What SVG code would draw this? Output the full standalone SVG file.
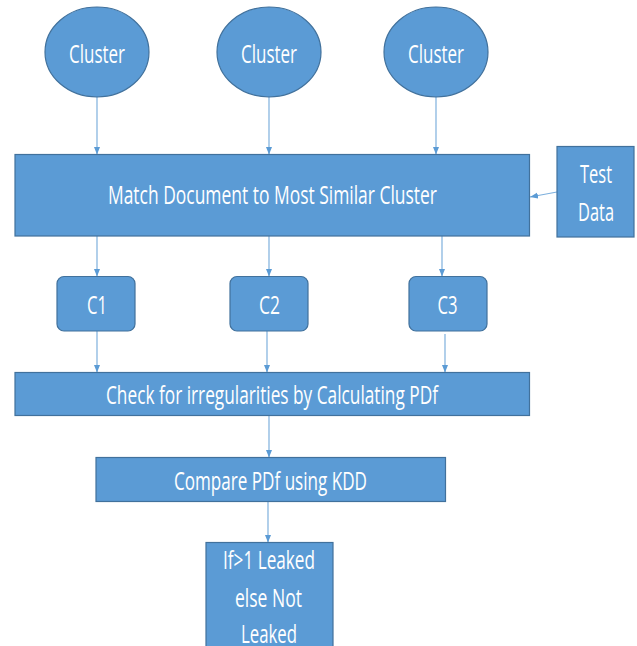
<svg xmlns="http://www.w3.org/2000/svg" width="637" height="646" viewBox="0 0 637 646">
<style>
.n{fill:#5B9BD5;stroke:#41719C;stroke-width:1.2}
.t{font-family:"Open Sans","Liberation Sans",sans-serif;font-size:25px;fill:#FFFFFF;text-anchor:middle}
.c{stroke:#7EB0DD;stroke-width:1.2;fill:none;marker-end:url(#ah)}
</style>
<defs>
<marker id="ah" viewBox="0 0 10 10" refX="10" refY="5" markerUnits="userSpaceOnUse" markerWidth="8" markerHeight="8" orient="auto">
<path d="M0,1 L10,5 L0,9 Z" fill="#5B9BD5"/>
</marker>
</defs>
<rect width="637" height="646" fill="#FFFFFF"/>
<g id="connectors">
<line class="c" x1="97" y1="97" x2="97" y2="154.5"/>
<line class="c" x1="269" y1="97" x2="269" y2="154.5"/>
<line class="c" x1="436" y1="97" x2="436" y2="154.5"/>
<line class="c" x1="557" y1="192" x2="530" y2="197"/>
<line class="c" x1="97" y1="236" x2="97" y2="276.5"/>
<line class="c" x1="269" y1="236" x2="269" y2="276.5"/>
<line class="c" x1="442" y1="236" x2="442" y2="276.5"/>
<line class="c" x1="97" y1="331" x2="97" y2="372.5"/>
<line class="c" x1="267" y1="331" x2="267" y2="372.5"/>
<line class="c" x1="445" y1="334" x2="445" y2="372.5"/>
<line class="c" x1="269" y1="416" x2="269" y2="457.5"/>
<line class="c" x1="268" y1="502" x2="268" y2="542.5"/>
</g>
<g id="cluster1"><ellipse class="n" cx="97" cy="52" rx="52" ry="45"/><text class="t" x="97" y="63" textLength="56" lengthAdjust="spacingAndGlyphs">Cluster</text></g>
<g id="cluster2"><ellipse class="n" cx="269" cy="52" rx="52" ry="45"/><text class="t" x="269" y="63" textLength="56" lengthAdjust="spacingAndGlyphs">Cluster</text></g>
<g id="cluster3"><ellipse class="n" cx="436" cy="52" rx="52" ry="45"/><text class="t" x="436" y="63" textLength="56" lengthAdjust="spacingAndGlyphs">Cluster</text></g>
<g id="match"><rect class="n" x="15" y="154.5" width="514.5" height="81.5"/><text class="t" x="272.5" y="204" textLength="329" lengthAdjust="spacingAndGlyphs">Match Document to Most Similar Cluster</text></g>
<g id="testdata"><rect class="n" x="557" y="146.5" width="77" height="90.5"/><text class="t" x="596" y="183" textLength="32" lengthAdjust="spacingAndGlyphs">Test</text><text class="t" x="596" y="221" textLength="36" lengthAdjust="spacingAndGlyphs">Data</text></g>
<g id="c1"><rect class="n" x="57" y="276.5" width="78" height="54.5" rx="7"/><text class="t" x="97" y="314" textLength="20" lengthAdjust="spacingAndGlyphs">C1</text></g>
<g id="c2"><rect class="n" x="230" y="276.5" width="78" height="54.5" rx="7"/><text class="t" x="269.5" y="314" textLength="21" lengthAdjust="spacingAndGlyphs">C2</text></g>
<g id="c3"><rect class="n" x="409" y="276.5" width="78" height="54.5" rx="7"/><text class="t" x="447.5" y="314" textLength="20" lengthAdjust="spacingAndGlyphs">C3</text></g>
<g id="check"><rect class="n" x="15" y="372.5" width="514.5" height="43"/><text class="t" x="272" y="404" textLength="332" lengthAdjust="spacingAndGlyphs">Check for irregularities by Calculating PDf</text></g>
<g id="compare"><rect class="n" x="96" y="457.5" width="349.5" height="44"/><text class="t" x="270.5" y="490" textLength="193" lengthAdjust="spacingAndGlyphs">Compare PDf using KDD</text></g>
<g id="result"><rect class="n" x="206" y="542.5" width="127" height="110"/><text class="t" x="269" y="569" textLength="92" lengthAdjust="spacingAndGlyphs">If&gt;1 Leaked</text><text class="t" x="268.5" y="607" textLength="67" lengthAdjust="spacingAndGlyphs">else Not</text><text class="t" x="269" y="643" textLength="56" lengthAdjust="spacingAndGlyphs">Leaked</text></g>
</svg>
